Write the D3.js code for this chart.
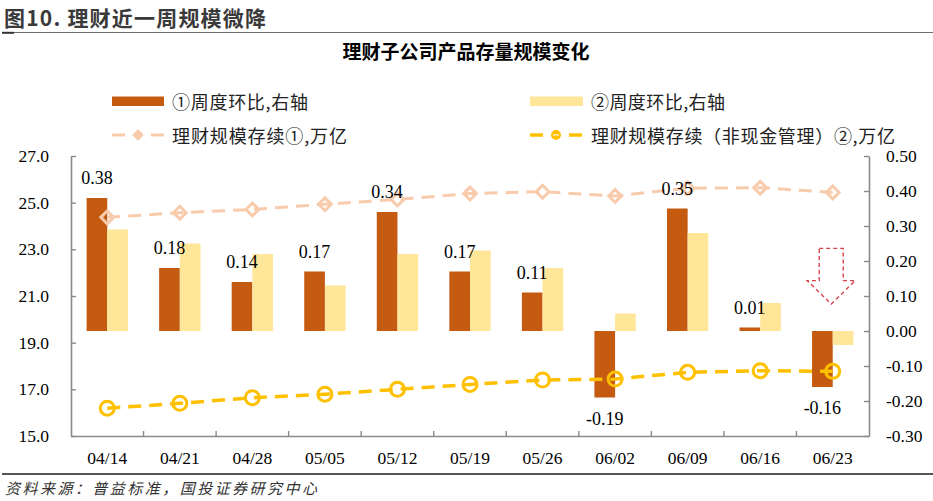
<!DOCTYPE html>
<html><head><meta charset="utf-8">
<script src="https://cdn.jsdelivr.net/npm/d3@7"></script>
<style>body{margin:0;background:#fff} svg{display:block}</style>
</head><body>
<svg id="c" width="933" height="501"></svg>
<script>
// ---- data ----
const categories = ["04/14","04/21","04/28","05/05","05/12","05/19","05/26","06/02","06/09","06/16","06/23"];
const wow1 = [0.38,0.18,0.14,0.17,0.34,0.17,0.11,-0.19,0.35,0.01,-0.16];   // ①周度环比 (right axis)
const wow2 = [0.29,0.25,0.22,0.13,0.22,0.23,0.18,0.05,0.28,0.08,-0.04];    // ②周度环比 (right axis)
const scale1 = [24.37,24.57,24.71,24.93,25.14,25.39,25.47,25.29,25.62,25.64,25.44]; // 理财规模存续①
const scale2 = [16.19,16.40,16.64,16.79,17.00,17.21,17.40,17.44,17.73,17.80,17.77]; // 理财规模存续（非现金管理）②
const leftTicks = [15,17,19,21,23,25,27];
const rightTicks = [-0.3,-0.2,-0.1,0,0.1,0.2,0.3,0.4,0.5];
const legendLabels = ["①周度环比,右轴","②周度环比,右轴","理财规模存续①,万亿","理财规模存续（非现金管理）②,万亿"];
const titleText = "图10. 理财近一周规模微降";
const chartTitle = "理财子公司产品存量规模变化";
const sourceText = "资料来源：普益标准，国投证券研究中心";

// ---- styles ----
const C_DARK = "#C55A11", C_LIGHT = "#FFE699", C_PEACH = "#F8CBAD", C_GOLD = "#FFC000";
const AXIS = "#8a8a8a";
const SERIF = "'Liberation Serif','Times New Roman',serif";
const CJK = "'Noto Sans CJK SC','Noto Sans',sans-serif";

const loc = d3.formatLocale({decimal:".",thousands:",",grouping:[3],currency:["",""],minus:"-"});
const f2 = loc.format(".2f"), f1 = loc.format(".1f");

const svg = d3.select("#c");
const L = 71, R = 869, T = 156, B = 436;

const x = d3.scaleBand().domain(categories).range([L, R]).padding(0);
const yL = d3.scaleLinear().domain([15,27]).range([B, T]);
const yR = d3.scaleLinear().domain([-0.3,0.5]).range([B, T]);
const barW = x.bandwidth()*0.285;
const cx = c => x(c) + x.bandwidth()/2;

// ---- header ----
svg.append("text").attr("x",4).attr("y",26).attr("font-family",CJK).attr("font-weight","bold")
  .attr("font-size",21).attr("fill","#3a3a3a").attr("textLength",262).attr("lengthAdjust","spacing").text(titleText);
svg.append("line").attr("x1",2).attr("x2",933).attr("y1",32.5).attr("y2",32.5).attr("stroke","#707070").attr("stroke-width",1.2);
svg.append("line").attr("x1",2).attr("x2",14).attr("y1",32.8).attr("y2",32.8).attr("stroke","#333").attr("stroke-width",2);

svg.append("text").attr("x",466).attr("y",59).attr("text-anchor","middle").attr("font-family",CJK)
  .attr("font-weight","bold").attr("font-size",19).attr("fill","#000").text(chartTitle);

// ---- legend ----
const lg = svg.append("g").attr("font-family",CJK).attr("font-size",18).attr("fill","#222");
const legX = [112, 530], textX = [172, 591], legW = [136,134,175,304];
lg.append("rect").attr("x",legX[0]).attr("y",96.5).attr("width",52).attr("height",9.5).attr("fill",C_DARK);
lg.append("rect").attr("x",legX[1]).attr("y",96.5).attr("width",53).attr("height",9.5).attr("fill",C_LIGHT);
lg.append("text").attr("x",textX[0]).attr("y",101).attr("dominant-baseline","central")
  .attr("textLength",legW[0]).attr("lengthAdjust","spacing").text(legendLabels[0]);
lg.append("text").attr("x",textX[1]).attr("y",101).attr("dominant-baseline","central")
  .attr("textLength",legW[1]).attr("lengthAdjust","spacing").text(legendLabels[1]);
function legLine(x0, col, w, marker){
  const y0 = 135;
  lg.append("line").attr("x1",x0).attr("x2",x0+13).attr("y1",y0).attr("y2",y0).attr("stroke",col).attr("stroke-width",w);
  lg.append("line").attr("x1",x0+39).attr("x2",x0+52).attr("y1",y0).attr("y2",y0).attr("stroke",col).attr("stroke-width",w);
  if(marker==="d"){
    lg.append("path").attr("d",d3.symbol(d3.symbolDiamond2,50)()).attr("transform",`translate(${x0+26},${y0})`)
      .attr("fill",col).attr("stroke",col).attr("stroke-width",2);
  } else {
    lg.append("circle").attr("cx",x0+26).attr("cy",y0).attr("r",4).attr("fill",col).attr("stroke",col).attr("stroke-width",2);
    lg.append("line").attr("x1",x0+23).attr("x2",x0+29).attr("y1",y0).attr("y2",y0).attr("stroke","#fff").attr("stroke-width",1);
  }
}
legLine(legX[0], C_PEACH, 3, "d");
legLine(legX[1], C_GOLD, 3.5, "c");
lg.append("text").attr("x",textX[0]).attr("y",135).attr("dominant-baseline","central")
  .attr("textLength",legW[2]).attr("lengthAdjust","spacing").text(legendLabels[2]);
lg.append("text").attr("x",textX[1]).attr("y",135).attr("dominant-baseline","central")
  .attr("textLength",legW[3]).attr("lengthAdjust","spacing").text(legendLabels[3]);

// ---- bars ----
const bars = svg.append("g");
bars.selectAll("rect.b1").data(categories).join("rect").attr("class","b1")
  .attr("x",c=>cx(c)-barW).attr("width",barW)
  .attr("y",(c,i)=>Math.min(yR(wow1[i]),yR(0))).attr("height",(c,i)=>Math.abs(yR(wow1[i])-yR(0)))
  .attr("fill",C_DARK);
bars.selectAll("rect.b2").data(categories).join("rect").attr("class","b2")
  .attr("x",c=>cx(c)).attr("width",barW)
  .attr("y",(c,i)=>Math.min(yR(wow2[i]),yR(0))).attr("height",(c,i)=>Math.abs(yR(wow2[i])-yR(0)))
  .attr("fill",C_LIGHT);

// ---- axes ----
function styleAxis(g){
  g.selectAll("path.domain").attr("stroke",AXIS).attr("stroke-width",1.6);
  g.selectAll(".tick line").attr("stroke",AXIS).attr("stroke-width",1.4);
  g.selectAll("text").attr("font-family",SERIF).attr("font-size",17.5).attr("fill","#000");
}
svg.append("g").attr("transform",`translate(${L},0)`)
  .call(d3.axisLeft(yL).tickValues(leftTicks).tickFormat(f1).tickSizeInner(-5).tickSizeOuter(0).tickPadding(22))
  .call(styleAxis);
svg.append("g").attr("transform",`translate(${R},0)`)
  .call(d3.axisRight(yR).tickValues(rightTicks).tickFormat(f2).tickSizeInner(-5).tickSizeOuter(0).tickPadding(17))
  .call(styleAxis);
const xa = svg.append("g").attr("transform",`translate(0,${B})`)
  .call(d3.axisBottom(x).tickSize(0).tickPadding(15.5)).call(styleAxis);
xa.selectAll(".bt").data(categories.slice(1)).join("line").attr("class","bt")
  .attr("x1",c=>x(c)).attr("x2",c=>x(c)).attr("y1",0).attr("y2",-5).attr("stroke",AXIS).attr("stroke-width",1.4);

// ---- lines ----
function series(vals, col, w, marker){
  const pts = categories.map((c,i)=>[cx(c), yL(vals[i])]);
  svg.append("path").attr("d",d3.line()(pts)).attr("fill","none").attr("stroke",col)
    .attr("stroke-width",w).attr("stroke-dasharray","13,8");
  const g = svg.append("g");
  if(marker==="d"){
    g.selectAll("path").data(pts).join("path").attr("d",d3.symbol(d3.symbolDiamond2,105)())
      .attr("transform",p=>`translate(${p[0]},${p[1]})`).attr("fill","none").attr("stroke",col).attr("stroke-width",3);
  } else {
    g.selectAll("circle").data(pts).join("circle").attr("cx",p=>p[0]).attr("cy",p=>p[1]).attr("r",7)
      .attr("fill","none").attr("stroke",col).attr("stroke-width",3);
  }
}
series(scale1, C_PEACH, 3, "d");
series(scale2, C_GOLD, 3.5, "c");

// ---- data labels ----
svg.append("g").selectAll("text").data(categories).join("text")
  .attr("x",c=>cx(c)-barW/2)
  .attr("y",(c,i)=> wow1[i]>=0 ? yR(wow1[i])-13.7 : yR(wow1[i])+27)
  .attr("text-anchor","middle").attr("font-family",SERIF).attr("font-size",18).attr("fill","#000")
  .text((c,i)=>f2(wow1[i]));

// ---- arrow annotation ----
const last = categories[categories.length-1];
const ax0 = cx(last)-1.5;
const arrowPts = [[ax0-12,yR(0.236)],[ax0+12,yR(0.236)],[ax0+12,yR(0.144)],[ax0+24,yR(0.144)],
  [ax0,yR(0.077)],[ax0-24,yR(0.144)],[ax0-12,yR(0.144)]];
svg.append("path").attr("d",d3.line()(arrowPts)+"Z").attr("fill","none").attr("stroke","#D9434A")
  .attr("stroke-width",1.4).attr("stroke-dasharray","4,3");

// ---- footer ----
svg.append("line").attr("x1",2).attr("x2",933).attr("y1",474).attr("y2",474).attr("stroke","#555").attr("stroke-width",2);
svg.append("text").attr("x",5).attr("y",494).attr("font-family",CJK).attr("font-style","italic")
  .attr("font-size",15).attr("fill","#333").attr("textLength",312).attr("lengthAdjust","spacing").text(sourceText);
</script>
</body></html>
